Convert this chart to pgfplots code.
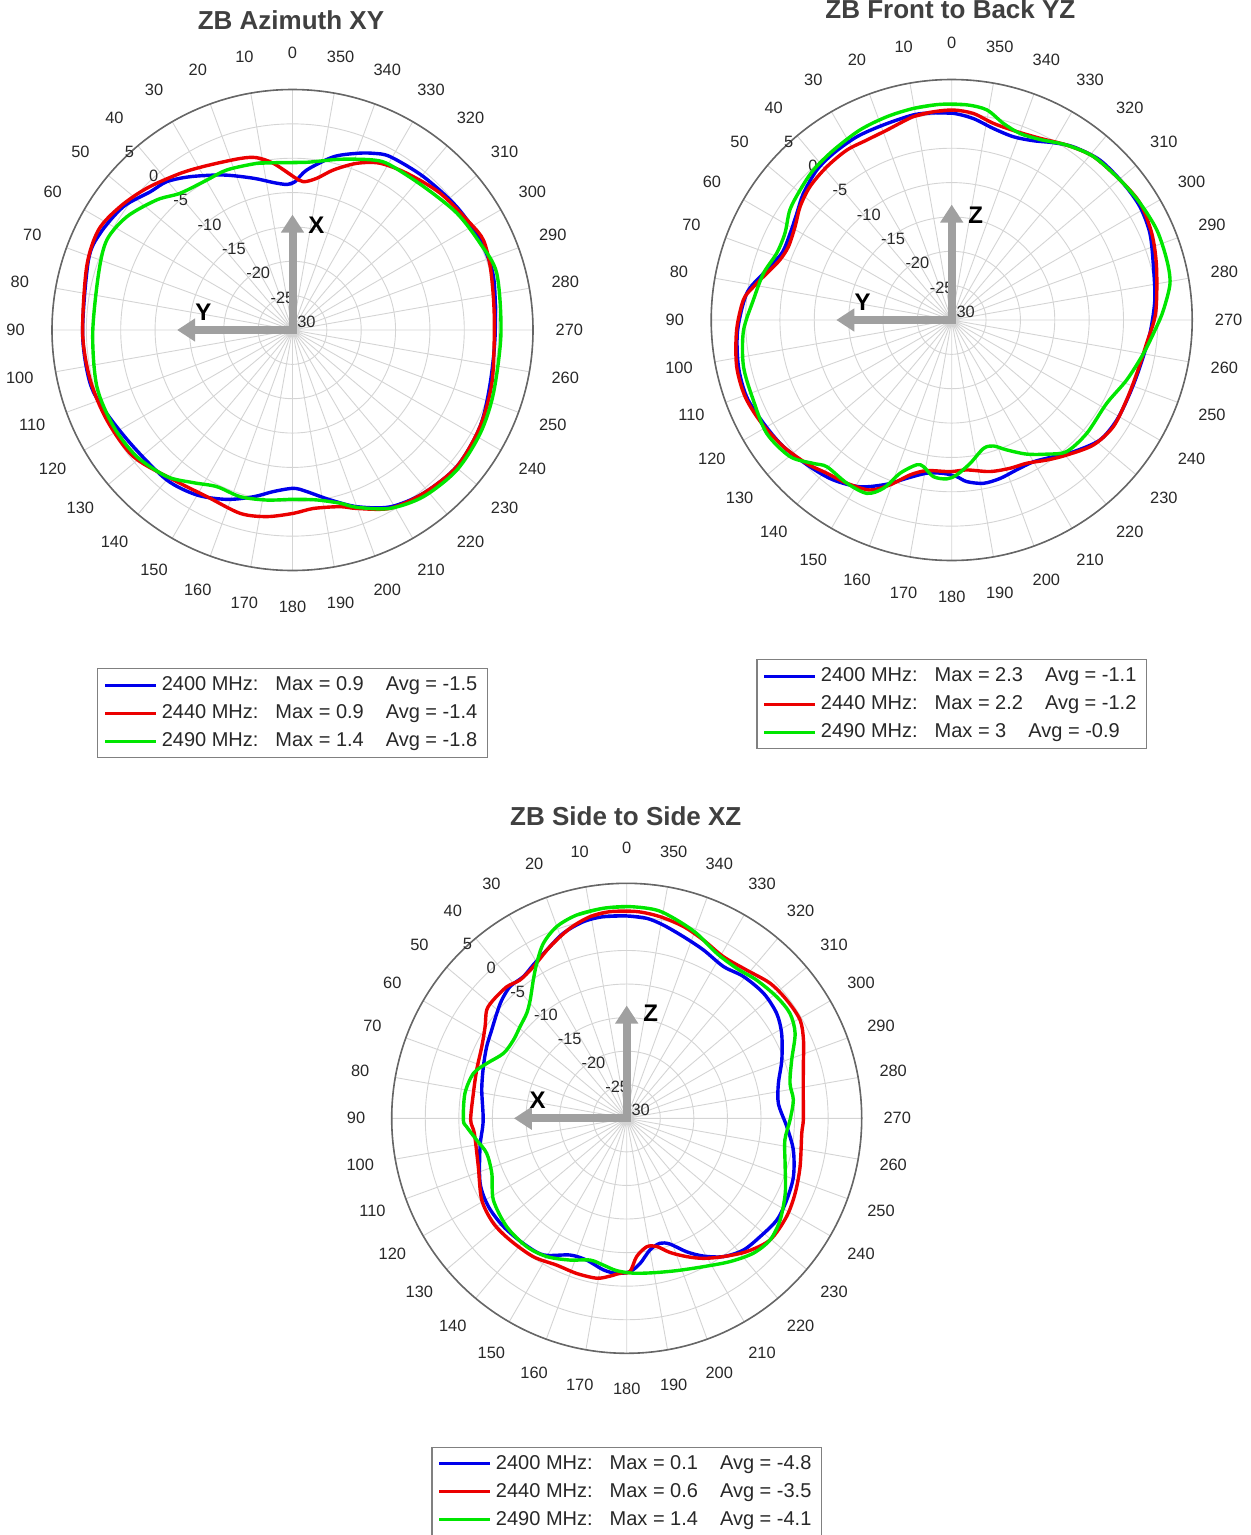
\documentclass[border=0pt]{standalone}
\usepackage{fontspec}
\setmainfont{Liberation Sans}
\usepackage{pgfplots}
\usepackage{pgfplotstable}
\pgfplotsset{compat=1.18}
\usepgfplotslibrary{polar}
\usetikzlibrary{arrows.meta}

\definecolor{cblue}{RGB}{0,0,235}
\definecolor{cred}{RGB}{235,0,0}
\definecolor{cgreen}{RGB}{0,230,0}
\definecolor{gridgray}{RGB}{212,212,212}
\definecolor{arrowgray}{RGB}{160,160,160}
\definecolor{titlegray}{RGB}{64,64,64}
\definecolor{labgray}{RGB}{40,40,40}

\newcommand{\tickfont}{\fontsize{8.2}{9.8}\selectfont}
\newcommand{\legfont}{\fontsize{10}{12}\selectfont}

% ---------------- data (angle in degrees, gain in dB) ----------------
\pgfplotstableread{
a r
-1 -8.41
2.2 -8.8
7.3 -8.37
14.4 -7.2
24.0 -5.31
33.7 -3.18
40.3 -1.7
45.8 -1.14
53.9 0.46
63.3 1.33
71.1 1.39
91 0.55
104.8 0.46
114.2 -0.36
126.3 -1.28
140 -1.52
149.9 -2.25
158.8 -3.56
166.8 -5.07
173.3 -6.33
180.4 -6.96
185.1 -6.38
192.5 -4.68
200 -2.64
208.9 -0.6
218.7 0.46
230.3 1.1
242.7 0.71
255.0 -0.21
269 -0.5
284.9 0.27
295.6 0.27
306.9 -0.12
319.5 -0.65
330.6 -1.04
335.4 -1.72
340 -2.64
346.7 -4.1
354.9 -6.62
359 -8.41
362.2 -8.8
367.3 -8.37
}\pOneBlue
\pgfplotstableread{
a r
-0.4 -7.69
6.5 -5.6
11.7 -4.39
17.0 -3.9
27.5 -3.03
35.6 -1.96
45.8 -0.41
54.4 0.85
62.7 1.77
72.9 1.34
91 0.54
103.9 0.32
115.9 0.03
128.5 -0.41
141.6 -2.15
152.8 -2.74
164.1 -2.25
172.2 -2.59
180.3 -3.32
186.7 -3.85
195.1 -3.37
199.8 -2.4
208.7 -0.41
218.7 0.46
230.3 1.1
242.7 0.71
255 0.03
269 -0.62
278.5 -0.41
287.8 0.22
295.2 0.71
301.0 0.17
312.8 -0.7
323.9 -1.77
332.3 -2.59
338.9 -4.0
345.6 -5.94
350.9 -7.64
355.8 -8.36
359.6 -7.69
366.5 -5.6
371.7 -4.39
}\pOneRed
\pgfplotstableread{
a r
-4.9 -5.5
6.5 -5.5
12.1 -5.2
22.3 -4.82
29.7 -4.87
39.4 -4.24
46.2 -2.64
55.6 -0.8
64.1 0.03
73.7 -0.6
91 -0.92
106.2 -0.36
118.4 -0.41
129.1 -0.8
139.4 -1.91
147.0 -3.51
154.2 -4.68
162.6 -4.58
171.4 -4.97
180.3 -5.36
188.1 -5.02
195.4 -3.85
200.0 -2.54
208.7 -0.41
218.2 0.85
229.6 1.43
241.2 1.19
252.5 0.66
269 0.34
285.5 0.85
294.8 0.08
305.4 -0.65
317.6 -1.72
329.4 -2.1
334.5 -2.59
344.4 -4.2
355.1 -5.5
366.5 -5.5
372.1 -5.2
}\pOneGreen

\pgfplotstableread{
a r
-0.5 0.08
5.1 0.27
10.6 0.37
19.3 0.08
27.4 0.03
35.4 -0.26
42.0 -0.65
49.5 -1.62
55.5 -2.64
61.8 -3.32
68.6 -3.42
76.1 -1.77
82.6 0.08
92.8 1.2
102.3 1.77
110.5 1.87
118.7 1.24
126.9 0.66
136.0 -0.31
143.5 -1.04
151.2 -2.3
158.4 -4.29
164.1 -6.04
170.7 -7.4
176.9 -7.64
181.8 -7.2
185.3 -6.38
191.0 -5.79
197.0 -5.89
203.4 -6.23
210.0 -6.18
216.6 -5.21
222.7 -3.9
231.0 -2.25
238.8 -1.91
247.6 -1.96
256.1 -1.77
266.2 -1.08
275.6 -0.3
284.8 0.37
293.6 1.48
301.0 1.97
308.5 1.92
317.2 1.73
324.9 0.8
330.2 -0.26
335.5 -1.33
341.4 -1.86
347.7 -1.48
353.9 -0.51
359.5 0.08
365.1 0.27
370.6 0.37
}\pTwoBlue
\pgfplotstableread{
a r
-0.5 0.56
5.0 0.42
10.7 0.12
18.9 -0.8
25.3 -1.04
31.7 -0.94
39.2 -1.23
46.7 -1.67
53.2 -2.45
59.2 -3.46
65.8 -3.95
70.7 -3.51
74.6 -2.59
80.5 -0.75
84.5 0.46
92.7 1.34
102.2 2.02
110.4 2.07
118.5 1.48
126.9 0.66
134.7 -0.31
140.8 -1.23
147.3 -1.77
154.3 -2.54
159.5 -4.39
165.0 -6.67
170.6 -7.78
179.4 -7.93
185.7 -8.07
194.2 -7.25
201.5 -6.81
207.6 -6.47
214.2 -5.36
220.4 -4.19
228.6 -2.5
236.6 -1.82
245.4 -2.01
253.9 -1.96
263.2 -1.43
272 -0.3
284.6 0.8
293.4 1.73
301.8 2.26
309.7 1.87
319.1 1.48
326.7 0.46
334.1 -0.6
341.0 -0.99
348.0 -0.75
354.0 0.22
359.5 0.56
365.0 0.42
370.7 0.12
}\pTwoRed
\pgfplotstableread{
a r
-4 1.39
3.1 1.43
10.3 1.29
17.7 1.05
25.8 0.71
34.8 0.12
42.7 -0.31
49.4 -0.94
55.8 -1.52
62.5 -2.64
69.1 -2.74
76.1 -1.77
84.2 -0.99
93 0.35
102.6 1.05
112.0 1.14
121.5 1.58
130.2 0.8
136.0 -0.99
139.6 -1.96
147.3 -1.77
153.9 -1.91
157.9 -3.56
161.4 -6.47
166.4 -8.32
169.1 -8.27
173.3 -7.05
178.2 -6.86
181.8 -7.44
187.3 -8.95
193.9 -10.74
198.3 -10.69
202.9 -9.48
209.2 -7.64
215.3 -6.08
221.1 -4.58
230.0 -4.34
241.7 -4.39
251.1 -3.08
260.1 -1.67
268.1 -0.17
272.7 0.85
279.5 2.21
285.6 2.5
293.7 2.6
301.8 2.26
309.7 1.87
319.1 1.48
326.7 0.46
333.9 -0.75
339.9 -1.09
345.3 -0.41
350.5 1.0
356.0 1.39
363.1 1.43
370.3 1.29
}\pTwoGreen

\pgfplotstableread{
a r
-5.7 -0.06
0 0.14
6.6 0.24
12.4 -0.01
18.9 -0.86
25.4 -2.25
31.3 -3.24
36.1 -3.88
41.5 -3.79
46.6 -4.38
51.1 -5.13
56.8 -5.97
62.9 -6.57
70.2 -7.31
78.9 -8.0
91 -8.62
100.9 -7.76
113.9 -6.12
122.6 -5.57
131.3 -5.57
140.4 -5.82
148.6 -6.17
157.5 -7.96
164.2 -8.05
171.3 -7.16
176.3 -6.86
181.2 -7.16
185.3 -8.3
190.0 -10.09
194.9 -10.74
199.0 -10.19
204.2 -8.2
209.1 -6.52
214.9 -4.88
221.5 -3.79
228.4 -3.44
235.9 -2.99
242.9 -3.24
250.7 -3.69
259.2 -4.73
267.0 -6.12
275.5 -7.3
283.0 -6.81
290.6 -5.32
298.7 -3.69
305.0 -2.74
312.4 -2.39
320.5 -2.64
327.5 -3.19
335.5 -2.44
342.7 -1.65
349.3 -0.7
354.3 -0.06
360 0.14
366.6 0.24
}\pThreeBlue
\pgfplotstableread{
a r
-2.8 0.83
4.6 0.88
10.3 0.53
16.6 -0.46
24.1 -2.0
31.6 -3.49
37.6 -3.98
42.3 -3.49
48.4 -3.44
52.3 -3.64
57.1 -4.88
63.7 -5.92
72.1 -6.52
80.7 -6.86
90.6 -6.76
95.7 -7.2
108.0 -6.76
119.4 -5.22
128.2 -4.73
136.2 -4.88
146.0 -5.13
154.5 -5.77
162.1 -5.72
169.4 -5.77
174.0 -6.37
177.5 -6.91
181.2 -7.16
184.1 -9.35
188.9 -10.64
193.2 -10.39
197.9 -9.0
203.4 -7.56
208.7 -6.22
214.9 -4.88
222.0 -3.29
229.7 -2.0
238.4 -2.05
246.0 -2.54
254.4 -3.19
265.1 -3.83
269.5 -3.69
278.1 -3.44
286.3 -2.59
293.9 -1.2
299.6 -0.31
306.5 -0.36
313.3 -0.66
321.0 -1.6
329.1 -1.95
336.7 -1.1
343.5 -0.21
350.6 0.44
357.2 0.83
364.6 0.88
370.3 0.53
}\pThreeRed
\pgfplotstableread{
a r
-0.9 1.53
6.3 1.48
13.8 1.18
20.1 0.39
25.5 -1.15
30.1 -3.29
34.0 -5.13
39.2 -7.26
43.6 -8.4
49.3 -9.05
55.3 -9.49
62.2 -9.25
68.6 -7.61
73.6 -6.22
81.2 -5.62
90.6 -5.67
93.0 -6.12
98.2 -7.41
104.0 -8.5
112.2 -8.3
121.5 -6.71
132.1 -5.92
142.1 -5.77
150.0 -6.22
158.2 -7.26
165.5 -8.2
171.0 -7.86
176.2 -7.26
182.5 -6.91
189.8 -6.66
198.2 -6.12
207.3 -5.13
215.8 -3.69
223.2 -2.44
229.7 -2.0
236.5 -2.59
244.7 -3.88
253.0 -5.32
262.2 -6.22
269.4 -5.67
276.3 -5.03
282.1 -5.13
289.5 -3.93
296.8 -1.9
302.7 -1.1
309.0 -1.25
316.8 -1.75
323.7 -2.3
331.4 -2.0
339.3 -0.56
345.9 0.48
351.8 1.33
359.1 1.53
366.3 1.48
373.8 1.18
}\pThreeGreen

\pgfplotsset{
  zbpolar/.style 2 args={
    scale only axis, width=#1, height=#1,
    xmin=0, xmax=360, ymin=0, ymax=35,
    xtick={0,10,...,350}, ytick={0,5,...,35},
    xticklabel=\empty, yticklabel=\empty,
    grid=major,
    major grid style={draw=gridgray, line width=0.45pt},
    axis line style={draw=black!60, line width=0.8pt},
    y axis line style={draw=none},
    major tick length=0pt,
    clip=false,
    anchor=center,
    legend style={at={(0.5,#2)}, anchor=north, draw=black!50, line width=0.6pt,
      font=\legfont, text=labgray, inner xsep=3pt, inner ysep=2pt, row sep=1.5pt,
      /tikz/every even column/.append style={column sep=2.5pt},
      cells={anchor=west}},
    legend image code/.code={\draw[##1, line width=1.5pt] (0pt,0pt) -- (25.5pt,0pt);},
  },
  bl/.style={cblue, line width=1.7pt, smooth},
  rd/.style={cred, line width=1.7pt, smooth},
  gr/.style={cgreen, line width=1.7pt, smooth},
}

\newcommand{\radlabels}{%
  \pgfplotsinvokeforeach{0,10,...,350}{\node[font=\tickfont, text=labgray] at (axis cs:##1+90,40.3) {##1};}%
  \pgfplotsinvokeforeach{-25,-20,...,5}{\node[font=\tickfont, text=labgray, anchor=south west, inner sep=1pt] at (axis cs:135,##1+30) {##1};}%
  \node[font=\tickfont, text=labgray, anchor=south west, inner sep=1pt, xshift=-1.5pt] at (axis cs:135,0) {-30};%
}
\newcommand{\axarrows}[2]{%
  \draw[arrowgray, line width=4pt, line cap=rect, -{Triangle[width=11pt,length=9pt]}] (axis cs:0,0) -- (axis cs:180,16.8);
  \draw[arrowgray, line width=4pt, line cap=rect, -{Triangle[width=11pt,length=9pt]}] (axis cs:0,0) -- (axis cs:90,16.8);
  \node[font=\fontsize{12}{14}\selectfont\bfseries] at (axis cs:0,0) [xshift=12pt, yshift=52.5pt] {#1};
  \node[font=\fontsize{12}{14}\selectfont\bfseries] at (axis cs:0,0) [xshift=-44.5pt, yshift=9pt] {#2};
}
\newcommand{\lentry}[3]{\addlegendentry{#1 MHz:\hspace{8.5pt}Max = #2\hspace{11pt}Avg = #3}}

\begin{document}
\begin{tikzpicture}
\useasboundingbox (0pt,0pt) rectangle (625pt,-767.5pt);
\tikzset{ttl/.style={font=\fontsize{13}{15}\selectfont\bfseries, text=titlegray, anchor=base}}
\node[ttl] at (145.5pt,-15pt) {ZB Azimuth XY};
\node[ttl] at (475.2pt,-9.25pt) {ZB Front to Back YZ};
\node[ttl] at (312.9pt,-412.5pt) {ZB Side to Side XZ};

\begin{polaraxis}[zbpolar={240.5pt}{-0.203}, at={(146.25pt,-165pt)}]
\radlabels
\addplot[bl] table[x expr=\thisrow{a}+90, y expr=\thisrow{r}+30] {\pOneBlue}; \lentry{2400}{0.9}{-1.5}
\addplot[rd] table[x expr=\thisrow{a}+90, y expr=\thisrow{r}+30] {\pOneRed}; \lentry{2440}{0.9}{-1.4}
\addplot[gr] table[x expr=\thisrow{a}+90, y expr=\thisrow{r}+30] {\pOneGreen}; \lentry{2490}{1.4}{-1.8}
\axarrows{X}{Y}
\end{polaraxis}

\begin{polaraxis}[zbpolar={240.5pt}{-0.205}, at={(475.85pt,-160pt)}]
\radlabels
\addplot[bl] table[x expr=\thisrow{a}+90, y expr=\thisrow{r}+30] {\pTwoBlue}; \lentry{2400}{2.3}{-1.1}
\addplot[rd] table[x expr=\thisrow{a}+90, y expr=\thisrow{r}+30] {\pTwoRed}; \lentry{2440}{2.2}{-1.2}
\addplot[gr] table[x expr=\thisrow{a}+90, y expr=\thisrow{r}+30] {\pTwoGreen}; \lentry{2490}{3}{-0.9}
\axarrows{Z}{Y}
\end{polaraxis}

\begin{polaraxis}[zbpolar={235pt}{-0.199}, at={(313.35pt,-559.15pt)}]
\radlabels
\addplot[bl] table[x expr=\thisrow{a}+90, y expr=\thisrow{r}+30] {\pThreeBlue}; \lentry{2400}{0.1}{-4.8}
\addplot[rd] table[x expr=\thisrow{a}+90, y expr=\thisrow{r}+30] {\pThreeRed}; \lentry{2440}{0.6}{-3.5}
\addplot[gr] table[x expr=\thisrow{a}+90, y expr=\thisrow{r}+30] {\pThreeGreen}; \lentry{2490}{1.4}{-4.1}
\axarrows{Z}{X}
\end{polaraxis}
\end{tikzpicture}
\end{document}
